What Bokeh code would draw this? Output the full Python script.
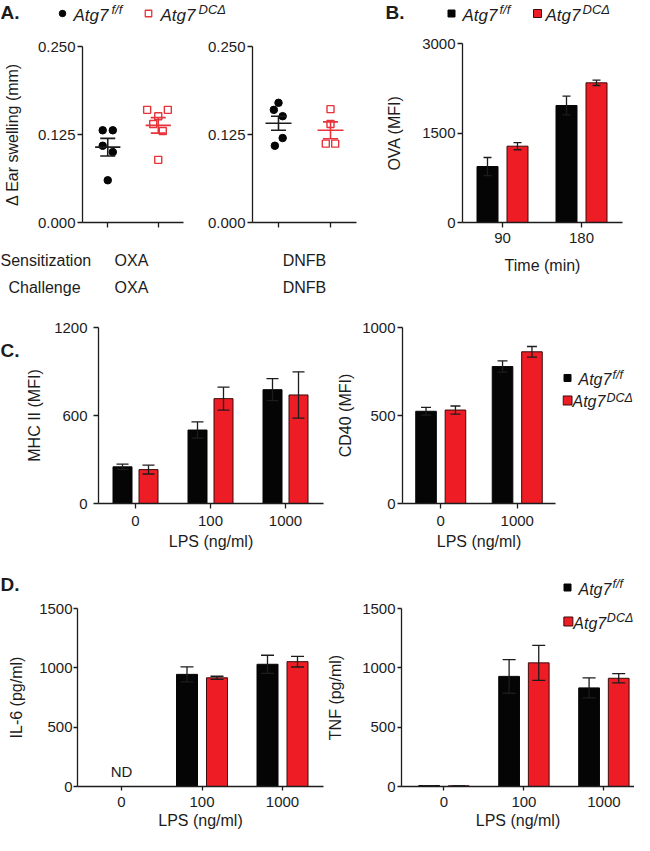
import numpy as np
from bokeh.plotting import figure
from bokeh.models import (Range1d, FixedTicker, Label, Whisker, TeeHead, ColumnDataSource,
                          NumeralTickFormatter)
from bokeh.layouts import row, column
from bokeh.embed import file_html
from bokeh.resources import INLINE

# ---------------- data ----------------
# A: ear swelling (mm), individual mice
oxa_ff = [0.131, 0.131, 0.109, 0.100, 0.060]
oxa_dc = [0.160, 0.160, 0.151, 0.140, 0.130, 0.089]
dnfb_ff = [0.170, 0.160, 0.151, 0.120, 0.109]
dnfb_dc = [0.161, 0.140, 0.112, 0.112]
# horizontal scatter of the points inside a column (category units)
oxa_ff_jitter = [-0.10, 0.10, -0.10, 0.10, 0.00]
oxa_dc_jitter = [-0.22, 0.19, 0.00, -0.10, 0.09, 0.00]
dnfb_ff_jitter = [0.00, -0.09, 0.08, 0.08, -0.07]
dnfb_dc_jitter = [0.00, 0.00, -0.09, 0.09]
# mean and SEM (f/f, DCdelta)
oxa_mean = [0.107, 0.138]
oxa_sem = [0.0125, 0.011]
dnfb_mean = [0.141, 0.131]
dnfb_sem = [0.010, 0.012]
swell_ticks = [0.0, 0.125, 0.25]
sensitization = ["OXA", "DNFB"]
challenge = ["OXA", "DNFB"]

# B: OVA uptake (MFI)
time_min = ["90", "180"]
ova_ff = [938, 1961]
ova_ff_sem = [151, 156]
ova_dc = [1279, 2341]
ova_dc_sem = [60, 45]
ova_ticks = [0, 1500, 3000]

# C: MHC II and CD40 (MFI)
lps_mhc = ["0", "100", "1000"]
mhc_ff = [250, 501, 776]
mhc_ff_sem = [18, 55, 75]
mhc_dc = [231, 715, 740]
mhc_dc_sem = [30, 78, 158]
mhc_ticks = [0, 600, 1200]
lps_cd40 = ["0", "1000"]
cd40_ff = [524, 778]
cd40_ff_sem = [22, 32]
cd40_dc = [531, 862]
cd40_dc_sem = [23, 30]
cd40_ticks = [0, 500, 1000]

# D: cytokines (pg/ml); IL-6 at 0 not detected
lps_cyt = ["0", "100", "1000"]
il6_ff = [np.nan, 945, 1030]
il6_ff_sem = [np.nan, 63, 76]
il6_dc = [np.nan, 916, 1052]
il6_dc_sem = [np.nan, 13, 45]
tnf_ff = [8, 928, 831]
tnf_ff_sem = [0, 142, 84]
tnf_dc = [6, 1042, 912]
tnf_dc_sem = [0, 148, 39]
cyt_ticks = [0, 500, 1000, 1500]

# ---------------- style ----------------
FONT = "Liberation Sans"
INK = "#1c1c1c"
BLK = "#050505"
RED = "#ee1c24"
RED_EDGE = "#3d0b0b"
RED_PT = "#e8333a"


def _base(p):
    p.outline_line_color = None
    p.grid.visible = False
    return p


def make_fig(canvas, frame, xr, yr):
    cx0, cy0, cx1, cy1 = canvas
    fx0, fy0, fx1, fy1 = frame
    p = figure(width=cx1 - cx0, height=cy1 - cy0, x_range=Range1d(*xr), y_range=Range1d(*yr),
               min_border_left=fx0 - cx0, min_border_right=cx1 - fx1,
               min_border_top=fy0 - cy0, min_border_bottom=cy1 - fy1,
               output_backend="svg", toolbar_location=None, tools="")
    return _base(p), dict(frame=frame, xr=xr, yr=yr)


def tile(x0, y0, x1, y1):
    """A blank canvas whose data coordinates are page pixels (for texts and legend keys)."""
    p = figure(width=x1 - x0, height=y1 - y0, x_range=Range1d(x0, x1), y_range=Range1d(y1, y0),
               x_axis_location=None, y_axis_location=None, min_border=0,
               output_backend="svg", toolbar_location=None, tools="")
    p.min_border_left = p.min_border_right = p.min_border_top = p.min_border_bottom = 0
    return _base(p), dict(frame=(x0, y0, x1, y1), xr=(x0, x1), yr=(y1, y0))


def xr_from(frame, g1_px, ppu):
    start = 1 - (g1_px - frame[0]) / ppu
    return (start, start + (frame[2] - frame[0]) / ppu)


def to_x(g, px):
    fx0, fy0, fx1, fy1 = g["frame"]
    x0, x1 = g["xr"]
    return x0 + (px - fx0) * (x1 - x0) / (fx1 - fx0)


def to_y(g, py):
    fx0, fy0, fx1, fy1 = g["frame"]
    y0, y1 = g["yr"]
    return y0 + (fy1 - py) * (y1 - y0) / (fy1 - fy0)


def text(p, g, px, py, s, size=16, align="left", style="normal"):
    p.add_layout(Label(x=to_x(g, px), y=to_y(g, py), text=s, text_font=FONT,
                       text_font_size=f"{size}px", text_font_style=style,
                       text_align=align, text_baseline="middle", text_color=INK))


def key(p, g, px, py, marker, size, fill, line, lw=1.0):
    p.scatter(x=[to_x(g, px)], y=[to_y(g, py)], marker=marker, size=size,
              fill_color=fill, line_color=line, line_width=lw)


def genotype(p, g, px, py, sup_px, sup, size=17, sup_size=13):
    text(p, g, px, py, "Atg7", size, style="italic")
    text(p, g, sup_px, py - 6, sup, sup_size, style="italic")


def style_axes(p, yticks, xticks, xlabels, ylabel=None, xlabel=None, yfmt=None,
               tick_out=5, ystand=2, xstand=6, ylab_stand=8, xlab_stand=4, xfont="15px"):
    xa, ya = p.xaxis[0], p.yaxis[0]
    for ax in (xa, ya):
        ax.axis_line_color = INK
        ax.axis_line_width = 1.3
        ax.major_tick_line_color = INK
        ax.major_tick_line_width = 1.3
        ax.major_tick_in = 0
        ax.major_tick_out = tick_out
        ax.minor_tick_line_color = None
        ax.major_label_text_font = FONT
        ax.major_label_text_font_size = "15px"
        ax.major_label_text_color = INK
        ax.axis_label_text_font = FONT
        ax.axis_label_text_font_size = "16px"
        ax.axis_label_text_font_style = "normal"
        ax.axis_label_text_color = INK
    xa.major_label_text_font_size = xfont
    ya.ticker = FixedTicker(ticks=yticks)
    if yfmt:
        ya.formatter = NumeralTickFormatter(format=yfmt)
    ya.major_label_standoff = ystand
    xa.ticker = FixedTicker(ticks=xticks)
    xa.major_label_overrides = {t: l for t, l in zip(xticks, xlabels)}
    xa.major_label_standoff = xstand
    if ylabel:
        ya.axis_label = ylabel
        ya.axis_label_standoff = ylab_stand
    if xlabel:
        xa.axis_label = xlabel
        xa.axis_label_standoff = xlab_stand


def bars(p, ff, ff_sem, dc, dc_sem, ppu, off_px, w_px, cap):
    x = np.arange(1, len(ff) + 1, dtype=float)
    off, w = off_px / ppu, w_px / ppu
    ff = np.asarray(ff, float)
    dc = np.asarray(dc, float)
    p.vbar(x=x - off, top=ff, bottom=0, width=w, fill_color=BLK, line_color=BLK, line_width=1)
    p.vbar(x=x + off, top=dc, bottom=0, width=w, fill_color=RED, line_color=RED_EDGE, line_width=1)
    for xx, m, s in ((x - off, ff, ff_sem), (x + off, dc, dc_sem)):
        s = np.asarray(s, float)
        src = ColumnDataSource(dict(x=xx, lo=m - s, hi=m + s))
        p.add_layout(Whisker(source=src, base="x", lower="lo", upper="hi", level="annotation",
                             line_color=INK, line_width=1.3,
                             upper_head=TeeHead(size=cap, line_color=INK, line_width=1.3),
                             lower_head=TeeHead(size=cap, line_color=INK, line_width=1.3)))


def dots(p, ff, ff_j, dc, dc_j, mean, sem):
    p.scatter(x=1 + np.asarray(ff_j), y=ff, marker="circle", size=7.5, fill_color=BLK, line_color=BLK)
    p.scatter(x=2 + np.asarray(dc_j), y=dc, marker="square", size=7, fill_color=None,
              line_color=RED_PT, line_width=1.4)
    for i, col in enumerate((INK, RED_PT)):
        xc = i + 1.0
        p.segment(x0=[xc - 0.25], x1=[xc + 0.25], y0=[mean[i]], y1=[mean[i]], line_color=col, line_width=1.6)
        src = ColumnDataSource(dict(x=[xc], lo=[mean[i] - sem[i]], hi=[mean[i] + sem[i]]))
        p.add_layout(Whisker(source=src, base="x", lower="lo", upper="hi", level="annotation",
                             line_color=col, line_width=1.6,
                             upper_head=TeeHead(size=15, line_color=col, line_width=1.6),
                             lower_head=TeeHead(size=15, line_color=col, line_width=1.6)))


# ---------------- top strip: panel letters A/B and their legends ----------------
strip, gs = tile(0, 0, 634, 28)
text(strip, gs, 0, 12, "A.", 19, style="bold")
key(strip, gs, 62, 13, "circle", 6.5, BLK, BLK)
key(strip, gs, 148, 13, "square", 6.5, None, RED_PT, 1.3)
genotype(strip, gs, 73, 15, 111, "f/f")
genotype(strip, gs, 160, 15, 198, "DC\u0394")
text(strip, gs, 385, 12, "B.", 19, style="bold")
key(strip, gs, 451, 13, "square", 7, BLK, BLK)
key(strip, gs, 537, 13, "square", 8, RED, RED_EDGE)
genotype(strip, gs, 462, 15, 499, "f/f")
genotype(strip, gs, 545, 15, 582, "DC\u0394")

# ---------------- A: ear swelling ----------------
frA1 = (79, 46, 183, 222)
pA1, gA1 = make_fig((0, 28, 195, 240), frA1, xr_from(frA1, 105, 52), (0, 0.25))
style_axes(pA1, swell_ticks, [1, 2], ["", ""], ylabel="\u0394 Ear swelling (mm)", yfmt="0.000",
           ystand=2, ylab_stand=14, xstand=0, xfont="1px")
dots(pA1, oxa_ff, oxa_ff_jitter, oxa_dc, oxa_dc_jitter, oxa_mean, oxa_sem)

frA2 = (252, 46, 356, 222)
pA2, gA2 = make_fig((195, 28, 375, 240), frA2, xr_from(frA2, 278, 52), (0, 0.25))
style_axes(pA2, swell_ticks, [1, 2], ["", ""], yfmt="0.000", ystand=2, xstand=0, xfont="1px")
dots(pA2, dnfb_ff, dnfb_ff_jitter, dnfb_dc, dnfb_dc_jitter, dnfb_mean, dnfb_sem)

pAt, gAt = tile(0, 240, 375, 297)
text(pAt, gAt, 0, 260, "Sensitization", 16)
text(pAt, gAt, 44, 287, "Challenge", 16, align="center")
for cx, s_lab, c_lab in zip((131, 304), sensitization, challenge):
    text(pAt, gAt, cx, 260, s_lab, 16, align="center")
    text(pAt, gAt, cx, 287, c_lab, 16, align="center")

# ---------------- B: OVA ----------------
frB = (462, 43, 622, 222)
pB, gB = make_fig((375, 28, 634, 297), frB, xr_from(frB, 502, 79), (0, 3000))
style_axes(pB, ova_ticks, [1, 2], time_min, ylabel="OVA (MFI)", xlabel="Time (min)",
           ystand=2, ylab_stand=16, xstand=5, xlab_stand=11)
bars(pB, ova_ff, ova_ff_sem, ova_dc, ova_dc_sem, 79, 15, 21, 8)

# ---------------- C: MHC II, CD40 ----------------
pCt, gCt = tile(0, 303, 22, 561)
text(pCt, gCt, 0, 336, "C.", 19, style="bold")

frC1 = (98, 330, 323, 509)
pC1, gC1 = make_fig((22, 303, 334, 561), frC1, xr_from(frC1, 135, 75), (0, 1200))
style_axes(pC1, mhc_ticks, [1, 2, 3], lps_mhc, ylabel="MHC II (MFI)", xlabel="LPS (ng/ml)",
           ystand=6, ylab_stand=8, xstand=7, xlab_stand=4)
bars(pC1, mhc_ff, mhc_ff_sem, mhc_dc, mhc_dc_sem, 75, 13, 19, 12)

frC2 = (399, 333, 555, 510)
pC2, gC2 = make_fig((334, 303, 562, 561), frC2, xr_from(frC2, 438, 78), (0, 1000))
style_axes(pC2, cd40_ticks, [1, 2], lps_cd40, ylabel="CD40 (MFI)", xlabel="LPS (ng/ml)",
           ystand=2, ylab_stand=5, xstand=7, xlab_stand=4)
bars(pC2, cd40_ff, cd40_ff_sem, cd40_dc, cd40_dc_sem, 78, 15, 21, 10)

pCl, gCl = tile(562, 303, 634, 561)
key(pCl, gCl, 567, 377, "square", 7, BLK, BLK)
key(pCl, gCl, 567, 410, "square", 9, RED, RED_EDGE)
genotype(pCl, gCl, 578, 379, 612, "f/f", 16, 12.5)
genotype(pCl, gCl, 572, 412, 606, "DC\u0394", 16, 12.5)

# ---------------- D: IL-6, TNF ----------------
pDt, gDt = tile(0, 571, 634, 614)
text(pDt, gDt, 0, 600, "D.", 19, style="bold")
key(pDt, gDt, 567, 603, "square", 7, BLK, BLK)
genotype(pDt, gDt, 578, 605, 612, "f/f", 16, 12.5)

frD1 = (77, 624, 323, 802)
pD1, gD1 = make_fig((0, 614, 324, 851), frD1, xr_from(frD1, 121, 80.5), (0, 1500))
style_axes(pD1, cyt_ticks, [1, 2, 3], lps_cyt, ylabel="IL-6 (pg/ml)", xlabel="LPS (ng/ml)",
           tick_out=4, ystand=1, ylab_stand=11, xstand=6, xlab_stand=2)
bars(pD1, il6_ff, il6_ff_sem, il6_dc, il6_dc_sem, 80.5, 15, 21, 13)
pD1.add_layout(Label(x=1, y=to_y(gD1, 787), text="ND", text_font=FONT, text_font_size="15px",
                     text_align="center", text_baseline="middle", text_color=INK))

frD2 = (398, 624, 634, 802)
pD2, gD2 = make_fig((324, 614, 634, 851), frD2, xr_from(frD2, 441, 81), (0, 1500))
style_axes(pD2, cyt_ticks, [1, 2, 3], lps_cyt, ylabel="TNF (pg/ml)", xlabel="LPS (ng/ml)",
           tick_out=4, ystand=2, ylab_stand=15, xstand=6, xlab_stand=2)
bars(pD2, tnf_ff, tnf_ff_sem, tnf_dc, tnf_dc_sem, 81, 15, 21, 13)
key(pD2, gD2, 567, 637, "square", 9, RED, RED_EDGE)
genotype(pD2, gD2, 572, 639, 606, "DC\u0394", 16, 12.5)

layout = column(
    strip,
    row(column(row(pA1, pA2), pAt), pB),
    row(pCt, pC1, pC2, pCl),
    pDt,
    row(pD1, pD2),
)
open("out.html", "w").write(file_html(layout, INLINE))
